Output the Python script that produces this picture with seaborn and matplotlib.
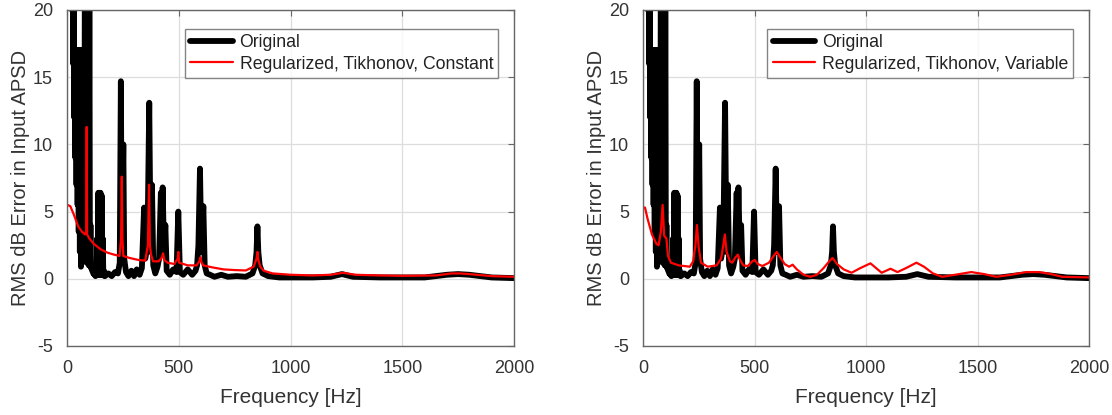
import numpy as np
import pandas as pd
import matplotlib
matplotlib.use("Agg")
import matplotlib.pyplot as plt
import seaborn as sns

# ---------------- data ----------------
# low-frequency noisy band of the original curve: upper / lower envelopes
band_freq = [0, 5, 10, 15, 20, 25, 30, 35, 40, 45, 50, 55, 60, 65, 70, 75, 80,
             85, 90, 95, 100, 105, 110, 115, 120, 125, 130, 135, 140, 145, 150,
             155, 160, 165]
band_upper = [25, 25, 25, 25, 25, 25, 25, 17, 17, 17, 17, 17, 17, 17, 17, 17, 25,
              25, 25, 25, 25, 4.0, 1.0, 0.8, 0.6, 0.5, 0.6, 3.0, 6.4, 6.4, 6.4,
              6.2, 3.0, 0.6]
band_lower = [25, 25, 25, 23, 20, 16, 12, 9, 7, 5.5, 3.5, 2.0, 0.9, 1.5, 1.5, 1.5,
              1.3, 1.2, 1.2, 1.0, 1.0, 0.8, 0.6, 0.4, 0.3, 0.2, 0.3, 0.3, 0.3,
              0.3, 0.3, 0.3, 0.3, 0.2]

orig_freq = [170, 185, 200, 215, 228, 236, 241, 245, 252, 256, 264, 275, 288,
             300, 312, 325, 335, 345, 350, 360, 368, 374, 380, 386, 395, 405,
             412, 420, 424, 428, 434, 440, 446, 460, 475, 490, 498, 505, 520,
             540, 560, 575, 582, 588, 595, 601, 610, 616, 625, 640, 660, 690,
             720, 760, 800, 830, 842, 848, 852, 856, 862, 875, 900, 950, 1000,
             1100, 1180, 1230, 1280, 1400, 1500, 1600, 1700, 1750, 1800, 1900,
             2000]
orig_vals = [0.2, 0.4, 0.2, 0.5, 0.4, 1.2, 14.7, 2.0, 10.0, 1.5, 0.5, 0.2, 0.6,
             0.2, 0.7, 0.3, 0.8, 5.3, 1.5, 2.5, 13.1, 2.0, 7.0, 1.0, 0.4, 0.9,
             1.5, 6.4, 3.0, 6.8, 2.0, 4.0, 0.6, 0.3, 0.7, 0.5, 5.0, 0.5, 0.3,
             0.7, 0.3, 0.6, 1.0, 2.5, 8.2, 2.0, 5.4, 1.0, 0.4, 0.3, 0.15, 0.3,
             0.15, 0.2, 0.15, 0.4, 1.0, 2.0, 3.9, 2.0, 1.0, 0.4, 0.2, 0.1, 0.1,
             0.1, 0.15, 0.35, 0.15, 0.1, 0.1, 0.1, 0.3, 0.35, 0.3, 0.1, 0.05]

const_freq = [2, 15, 30, 50, 67, 80, 86, 88, 90, 100, 120, 150, 180, 210, 235,
              242, 245, 248, 252, 280, 320, 350, 362, 367, 371, 376, 385, 410,
              425, 430, 435, 450, 480, 495, 498, 502, 540, 580, 592, 597, 602,
              610, 650, 700, 750, 800, 835, 848, 852, 856, 865, 880, 920, 1000,
              1100, 1180, 1235, 1290, 1400, 1500, 1650, 1720, 1760, 1800, 1900,
              2000]
const_vals = [5.5, 5.4, 4.8, 3.9, 3.5, 3.3, 3.5, 11.3, 3.3, 3.0, 2.6, 2.2, 1.95,
              1.8, 1.7, 3.0, 7.6, 3.0, 1.7, 1.55, 1.4, 1.35, 2.5, 7.0, 2.5, 1.8,
              1.3, 1.3, 1.6, 1.9, 1.4, 1.2, 1.1, 1.5, 2.0, 1.2, 1.0, 1.0, 1.3,
              1.6, 1.2, 1.0, 0.85, 0.7, 0.65, 0.62, 0.9, 1.5, 2.0, 1.4, 0.9, 0.6,
              0.4, 0.3, 0.25, 0.3, 0.45, 0.3, 0.25, 0.22, 0.25, 0.4, 0.4, 0.35,
              0.2, 0.15]

var_freq = [2, 9, 20, 40, 60, 70, 80, 88, 95, 105, 112, 125, 160, 210, 225, 235,
            242, 250, 260, 290, 330, 350, 360, 367, 375, 390, 400, 415, 425, 435,
            450, 470, 490, 501, 515, 535, 565, 590, 600, 615, 635, 655, 671, 690,
            720, 750, 780, 810, 835, 850, 870, 900, 935, 975, 1020, 1045, 1070,
            1110, 1141, 1180, 1226, 1260, 1300, 1342, 1400, 1472, 1530, 1584,
            1650, 1718, 1776, 1830, 1879, 2000]
var_vals = [5.3, 5.3, 4.5, 3.3, 2.6, 2.5, 3.5, 5.5, 3.2, 3.0, 1.7, 1.2, 1.0, 0.9,
            1.3, 2.5, 4.0, 2.3, 1.2, 0.9, 1.0, 1.5, 2.5, 3.3, 2.0, 1.3, 1.2, 1.6,
            1.8, 1.4, 1.0, 0.95, 1.3, 1.4, 1.1, 0.95, 1.2, 1.8, 2.0, 1.6, 1.1,
            0.9, 1.05, 0.7, 0.3, 0.15, 0.3, 0.8, 1.3, 1.55, 1.1, 0.7, 0.45, 0.8,
            1.15, 0.8, 0.45, 0.75, 0.5, 0.8, 1.2, 0.9, 0.4, 0.15, 0.3, 0.5, 0.35,
            0.15, 0.3, 0.5, 0.5, 0.35, 0.15, 0.1]

x_ticks = [0, 500, 1000, 1500, 2000]
y_ticks = [-5, 0, 5, 10, 15, 20]
labels = ["Original", "Regularized, Tikhonov, Constant",
          "Regularized, Tikhonov, Variable"]

# ---------------- build series ----------------
zz_x, zz_y = [], []
for f, u, l in zip(band_freq, band_upper, band_lower):
    zz_x += [f, f + 2.5]
    zz_y += [u, l]
orig_df = pd.DataFrame({"f": zz_x + orig_freq, "v": zz_y + orig_vals})
const_df = pd.DataFrame({"f": const_freq, "v": const_vals})
var_df = pd.DataFrame({"f": var_freq, "v": var_vals})

sns.set_style("white")
plt.rcParams["font.family"] = ["Liberation Sans", "DejaVu Sans"]
plt.rcParams["path.simplify"] = False
plt.rcParams["axes.unicode_minus"] = False

fig = plt.figure(figsize=(11.12, 4.15), dpi=100)
ax1 = fig.add_axes([67 / 1112, 69 / 415, 447 / 1112, 336 / 415])
ax2 = fig.add_axes([643 / 1112, 69 / 415, 446 / 1112, 336 / 415])

text_col = "#333333"
for ax, rdf, rlab in [(ax1, const_df, labels[1]), (ax2, var_df, labels[2])]:
    sns.lineplot(data=orig_df, x="f", y="v", ax=ax, color="black", lw=4.2,
                 estimator=None, sort=False, label=labels[0],
                 solid_joinstyle="round")
    sns.lineplot(data=rdf, x="f", y="v", ax=ax, color="#ff0000", lw=1.6,
                 estimator=None, sort=False, label=rlab)
    ax.set_xlim(0, 2000)
    ax.set_ylim(-5, 20)
    ax.set_xticks(x_ticks)
    ax.set_yticks(y_ticks)
    ax.grid(True, color="#dddddd", lw=0.9)
    ax.set_axisbelow(True)
    for s in ax.spines.values():
        s.set_visible(True)
        s.set_color("#666666")
        s.set_linewidth(1.0)
    ax.tick_params(direction="in", top=True, right=True, length=4,
                   width=0.8, color="#666666", labelsize=13, pad=10,
                   labelcolor=text_col)
    ax.set_xlabel("Frequency [Hz]", fontsize=15, color=text_col, labelpad=8)
    ax.set_ylabel("RMS dB Error in Input APSD", fontsize=14.5, color=text_col,
                  labelpad=2)
    leg = ax.legend(loc="upper right", fontsize=12.7, frameon=True,
                    fancybox=False, handlelength=2.4, borderpad=0.3,
                    labelspacing=0.25, handletextpad=0.4,
                    bbox_to_anchor=(0.985, 0.97))
    leg.get_frame().set_edgecolor("#666666")
    leg.get_frame().set_linewidth(1.0)
    for t in leg.get_texts():
        t.set_color("#222222")

fig.savefig("out.png", dpi=100)
